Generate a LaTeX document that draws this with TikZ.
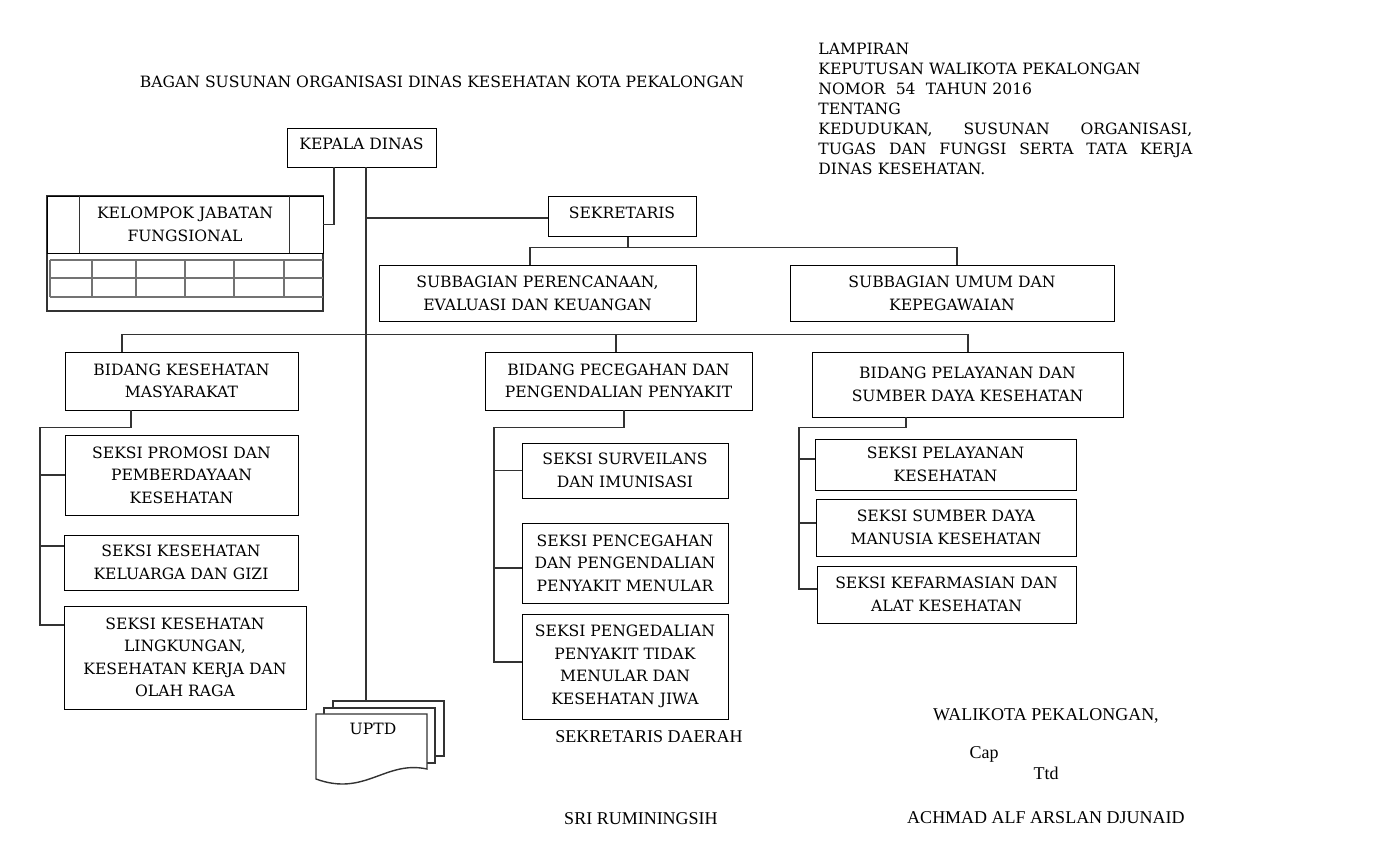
\documentclass[tikz,border=0pt]{standalone}
\usepackage{fontspec}
\setmainfont{DejaVu Serif}
\newfontfamily\signfont{Liberation Serif}
\usepackage{tikz}
\usetikzlibrary{calc}

\newcommand\orgfont{\fontsize{7.8}{11.25}\selectfont}
\newcommand\headfont{\fontsize{7.8}{10}\selectfont}
\newcommand\signtext{\signfont\fontsize{9}{11}\selectfont}

\tikzset{
  orgbox/.style={draw, fill=white, align=center, inner sep=0pt, font=\orgfont},
  boxsize/.style 2 args={minimum width=#1*0.5pt, minimum height=#2*0.5pt},
  orgline/.style={draw=black!80, line width=0.7pt},
  gridline/.style={draw=black!55, line width=0.6pt},
  sheet/.style={draw=black!80, line width=0.7pt, fill=white},
  plaintext/.style={inner sep=0pt, font=\orgfont},
  signlabel/.style={inner sep=0pt, font=\signtext},
}

\begin{document}
\begin{tikzpicture}[x=0.5pt,y=-0.5pt,line join=miter]
  \useasboundingbox[fill=white] (0,0) rectangle (1399,849);
%%
% Title and header
  \node[plaintext] (title) at (442,82) {BAGAN SUSUNAN ORGANISASI DINAS KESEHATAN KOTA PEKALONGAN};
  \node[plaintext, font=\headfont, anchor=north west, text width=187pt, align=left] (lampiran) at (818,43)
    {LAMPIRAN\\
     KEPUTUSAN WALIKOTA PEKALONGAN\\
     NOMOR\ \ 54\ \ TAHUN 2016\\
     TENTANG\\
     \makebox[187pt][l]{KEDUDUKAN,\hfill SUSUNAN\hfill ORGANISASI,}\\
     \makebox[187pt][l]{TUGAS\hfill DAN\hfill FUNGSI\hfill SERTA\hfill TATA\hfill KERJA}\\
     DINAS KESEHATAN.};
%
% Node: kepala
  \node[orgbox, boxsize={149}{39}, text depth=4pt] (kepala) at (361.5,147.5) {KEPALA DINAS};
% Node: kelompok
  \draw[orgline] (47,196) rectangle (323,311);
  \node[orgbox, boxsize={276}{57}] (kelompok) at (185,224.5) {KELOMPOK JABATAN\\FUNGSIONAL};
  \draw[orgline] ($(kelompok.north west)+(33,0)$) -- ($(kelompok.south west)+(33,0)$);
  \draw[orgline] ($(kelompok.north east)+(-34,0)$) -- ($(kelompok.south east)+(-34,0)$);
  \foreach \gy in {260,278,297}
    \draw[gridline] (50,\gy) -- (323,\gy);
  \foreach \gx in {50,92,136,185,234,284}
    \draw[gridline] (\gx,260) -- (\gx,297);
% Node: sekretaris
  \node[orgbox, boxsize={148}{40}, text depth=4pt] (sekretaris) at (622,216.5) {SEKRETARIS};
  \node[orgbox, boxsize={317}{56}] (subrenc) at (537.5,293.5) {SUBBAGIAN PERENCANAAN,\\EVALUASI DAN KEUANGAN};
  \node[orgbox, boxsize={324}{56}] (subumum) at (952,293.5) {SUBBAGIAN UMUM DAN\\KEPEGAWAIAN};
% Node: kesmas
  \node[orgbox, boxsize={233}{58}] (kesmas) at (181.5,381) {BIDANG KESEHATAN\\MASYARAKAT};
  \node[orgbox, boxsize={233}{80}] (promosi) at (181.5,475) {SEKSI PROMOSI DAN\\PEMBERDAYAAN\\KESEHATAN};
  \node[orgbox, boxsize={234}{55}] (keluarga) at (181,562.5) {SEKSI KESEHATAN\\KELUARGA DAN GIZI};
  \node[orgbox, boxsize={242}{103}] (lingkungan) at (185,657.5) {SEKSI KESEHATAN\\LINGKUNGAN,\\KESEHATAN KERJA DAN\\OLAH RAGA};
% Node: p2p
  \node[orgbox, boxsize={267}{58}] (p2p) at (618.5,381) {BIDANG PECEGAHAN DAN\\PENGENDALIAN PENYAKIT};
  \node[orgbox, boxsize={206}{55}] (surveilans) at (625,470.5) {SEKSI SURVEILANS\\DAN IMUNISASI};
  \node[orgbox, boxsize={206}{80}] (pencegahan) at (625,563) {SEKSI PENCEGAHAN\\DAN PENGENDALIAN\\PENYAKIT MENULAR};
  \node[orgbox, boxsize={206}{105}] (ptm) at (625,666.5) {SEKSI PENGEDALIAN\\PENYAKIT TIDAK\\MENULAR DAN\\KESEHATAN JIWA};
% Node: pelayanan
  \node[orgbox, boxsize={311}{65}] (pelayanan) at (967.5,384.5) {BIDANG PELAYANAN DAN\\SUMBER DAYA KESEHATAN};
  \node[orgbox, boxsize={261}{51}] (seksiyan) at (945.5,464.5) {SEKSI PELAYANAN\\KESEHATAN};
  \node[orgbox, boxsize={260}{57}] (sdm) at (946,527.5) {SEKSI SUMBER DAYA\\MANUSIA KESEHATAN};
  \node[orgbox, boxsize={259}{57}] (farmasi) at (946.5,594.5) {SEKSI KEFARMASIAN DAN\\ALAT KESEHATAN};
% Node: uptd
  \draw[sheet] (333,701) rectangle (444,756);
  \draw[sheet] (324,708) rectangle (435,763);
  \draw[sheet] (316,779) -- (316,714) -- (427,714) -- (427,769)
    .. controls (385,760) and (365,797) .. (316,779) -- cycle;
  \node[plaintext] (uptd) at (373,729) {UPTD};
  \coordinate (uptdtop) at (366,701);
%
% Edges
  \coordinate (trunktop) at ($(kepala.south)+(4.5,0)$);
  \draw[orgline] (trunktop) -- (uptdtop);
  \draw[orgline] ($(kepala.south)+(-27.5,0)$) |- (kelompok.east);
  \draw[orgline] ($(sekretaris.west)+(0,1.5)$) -- ($(sekretaris.west -| trunktop)+(0,1.5)$);
  \draw[orgline] ($(sekretaris.south)+(6,0)$) -- ++(0,10.5) coordinate (sekbar)
    -| ($(subrenc.north)+(-7.5,0)$);
  \draw[orgline] (sekbar) -| ($(subumum.north)+(5,0)$);
  \draw[orgline] ($(kesmas.north)+(-59.5,0)$) -- ++(0,-17) -| ($(pelayanan.north)+(0.5,0)$);
  \draw[orgline] ($(p2p.north)+(-2.5,0)$) -- ++(0,-17);
  % Edge: kesmas -> seksi
  \draw[orgline] ($(kesmas.south)+(-50.5,0)$) |- ++(-91,17) coordinate (kmspine)
    |- ($(lingkungan.west)+(0,-32.5)$);
  \draw[orgline] (promosi.west) -- (promosi.west -| kmspine);
  \draw[orgline] ($(keluarga.west)+(0,-16.5)$) -- ($(keluarga.west -| kmspine)+(0,-16.5)$);
  % Edge: p2p -> seksi
  \draw[orgline] ($(p2p.south)+(5.5,0)$) |- ++(-130,17) coordinate (ppspine)
    |- ($(ptm.west)+(0,-4.5)$);
  \draw[orgline] (surveilans.west) -- (surveilans.west -| ppspine);
  \draw[orgline] ($(pencegahan.west)+(0,5)$) -- ($(pencegahan.west -| ppspine)+(0,5)$);
  % Edge: pelayanan -> seksi
  \draw[orgline] ($(pelayanan.south)+(-61.5,0)$) |- ++(-107,10) coordinate (plspine)
    |- ($(farmasi.west)+(0,-5.5)$);
  \draw[orgline] ($(seksiyan.west)+(0,-5.5)$) -- ($(seksiyan.west -| plspine)+(0,-5.5)$);
  \draw[orgline] ($(sdm.west)+(0,-4.5)$) -- ($(sdm.west -| plspine)+(0,-4.5)$);
%
% Signatures
  \node[signlabel] (sekda) at (649,737) {SEKRETARIS DAERAH};
  \node[signlabel] (sekdaname) at (641,819) {SRI RUMININGSIH};
  \node[signlabel] (walikota) at (1046,716) {WALIKOTA PEKALONGAN,};
  \node[signlabel] (cap) at (984,754) {Cap};
  \node[signlabel] (ttd) at (1046,773) {Ttd};
  \node[signlabel] (walikotaname) at (1046,818) {ACHMAD ALF ARSLAN DJUNAID};
%
\end{tikzpicture}
\end{document}
